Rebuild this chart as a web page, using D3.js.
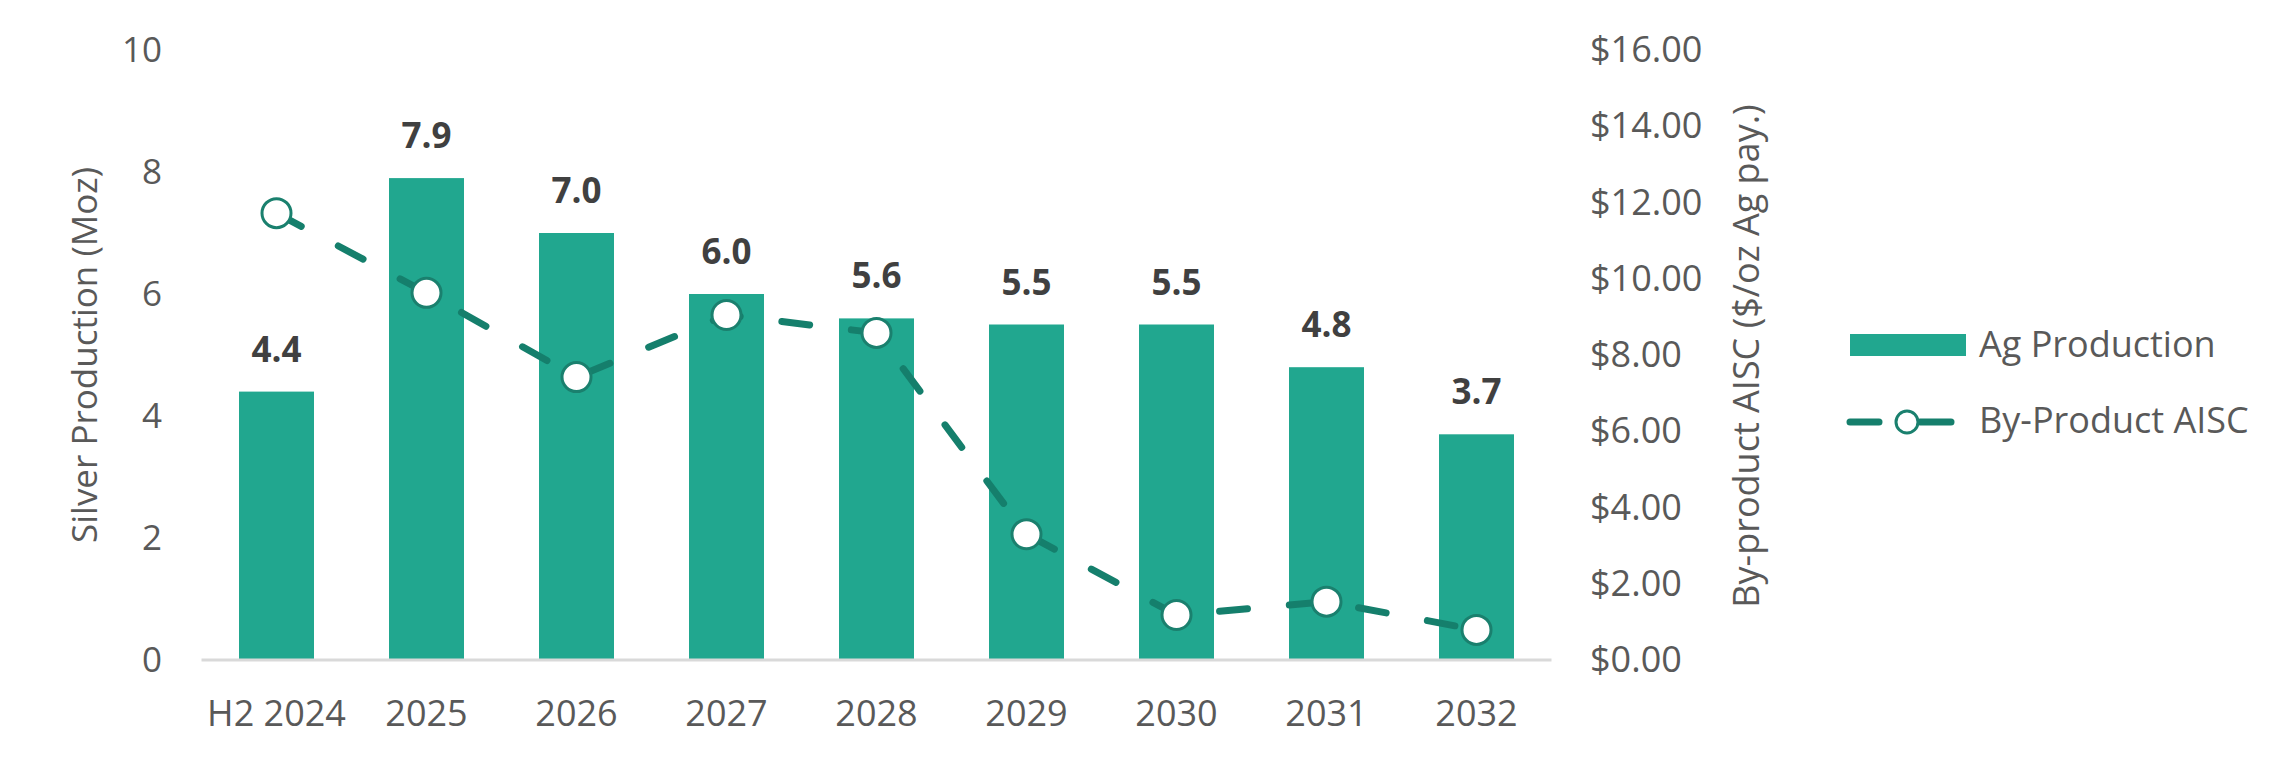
<!DOCTYPE html>
<html>
<head>
<meta charset="utf-8">
<script src="https://cdn.jsdelivr.net/npm/d3@7"></script>
<style>
  body { margin: 0; background: #fff; }
  text { font-family: "Open Sans", sans-serif; }
</style>
</head>
<body>
<div id="chart"></div>
<script>
// data
var years = ["H2 2024", "2025", "2026", "2027", "2028", "2029", "2030", "2031", "2032"];
var agProduction = [4.4, 7.9, 7.0, 6.0, 5.6, 5.5, 5.5, 4.8, 3.7];
var aisc = [11.72, 9.63, 7.42, 9.05, 8.58, 3.30, 1.18, 1.53, 0.79];
var leftTicks = [0, 2, 4, 6, 8, 10];
var rightTicks = [0, 2, 4, 6, 8, 10, 12, 14, 16];

var W = 2295, H = 767;
var plotLeft = 201.5, plotRight = 1551.5, plotTop = 50, plotBottom = 660;

var barColor = "#21a78f", lineColor = "#157f6c", textGrey = "#595959";

var svg = d3.select("#chart").append("svg")
    .attr("width", W)
    .attr("height", H);

var x = d3.scaleBand().domain(years).range([plotLeft, plotRight])
    .paddingInner(0.5).paddingOuter(0.25);
var y = d3.scaleLinear().domain([0, 10]).range([plotBottom, plotTop]);
var y2 = d3.scaleLinear().domain([0, 16]).range([plotBottom, plotTop]);

function cx(i) { return x(years[i]) + x.bandwidth() / 2; }

// LEFT AXIS
var yAxis = svg.append("g")
    .attr("transform", "translate(162,0)")
    .call(d3.axisLeft(y).tickValues(leftTicks).tickSize(0).tickPadding(0));
yAxis.select(".domain").remove();
yAxis.selectAll("text")
    .style("font-size", "35px")
    .style("fill", textGrey);

// RIGHT AXIS
var yAxis2 = svg.append("g")
    .attr("transform", "translate(1590,0)")
    .call(d3.axisRight(y2).tickValues(rightTicks).tickSize(0).tickPadding(0)
        .tickFormat(function (d) { return "$" + d3.format(".2f")(d); }));
yAxis2.select(".domain").remove();
yAxis2.selectAll("text")
    .style("font-size", "36px")
    .style("fill", textGrey);

// BARS
svg.selectAll("rect.bar")
    .data(agProduction)
    .enter()
    .append("rect")
    .attr("class", "bar")
    .attr("x", function (d, i) { return x(years[i]); })
    .attr("y", function (d) { return y(d); })
    .attr("width", x.bandwidth())
    .attr("height", function (d) { return y(0) - y(d); })
    .style("fill", barColor);

// X AXIS
var xAxis = svg.append("g")
    .attr("transform", "translate(0," + plotBottom + ")")
    .call(d3.axisBottom(x).tickSize(0).tickPadding(40));
xAxis.select(".domain")
    .attr("d", "M" + plotLeft + ",0H" + plotRight)
    .style("stroke", "#d9d9d9")
    .style("stroke-width", 3);
xAxis.selectAll("text")
    .style("font-size", "36px")
    .style("fill", textGrey);

// BAR LABELS
svg.selectAll("text.barlabel")
    .data(agProduction)
    .enter()
    .append("text")
    .attr("class", "barlabel")
    .attr("x", function (d, i) { return cx(i); })
    .attr("y", function (d) { return y(d) - 30; })
    .style("text-anchor", "middle")
    .style("font-size", "35px")
    .style("font-weight", "bold")
    .style("fill", "#404040")
    .text(function (d) { return d3.format(".1f")(d); });

// AISC LINE
var line = d3.line()
    .x(function (d, i) { return cx(i); })
    .y(function (d) { return y2(d); });

svg.append("path")
    .datum(aisc)
    .attr("d", line)
    .style("fill", "none")
    .style("stroke", lineColor)
    .style("stroke-width", 7)
    .style("stroke-linecap", "round")
    .style("stroke-dasharray", "28,42");

svg.selectAll("circle.pt")
    .data(aisc)
    .enter()
    .append("circle")
    .attr("class", "pt")
    .attr("cx", function (d, i) { return cx(i); })
    .attr("cy", function (d) { return y2(d); })
    .attr("r", 14.5)
    .style("fill", "#fff")
    .style("stroke", "#1a806e")
    .style("stroke-width", 3);

// AXIS TITLES
svg.append("text")
    .attr("transform", "translate(85," + ((plotTop + plotBottom) / 2) + ") rotate(-90)")
    .attr("dy", "0.35em")
    .style("text-anchor", "middle")
    .style("font-size", "35px")
    .style("fill", textGrey)
    .text("Silver Production (Moz)");

svg.append("text")
    .attr("transform", "translate(1746,356) rotate(-90)")
    .attr("dy", "0.35em")
    .style("text-anchor", "middle")
    .style("font-size", "36px")
    .style("fill", textGrey)
    .text("By-product AISC ($/oz Ag pay.)");

// LEGEND
var lg = svg.append("g");
lg.append("rect")
    .attr("x", 1850).attr("y", 334)
    .attr("width", 116).attr("height", 22)
    .style("fill", barColor);
lg.append("text")
    .attr("x", 1979).attr("y", 357)
    .style("font-size", "36px").style("fill", textGrey)
    .text("Ag Production");

lg.append("line")
    .attr("x1", 1850).attr("x2", 1879).attr("y1", 422).attr("y2", 422)
    .style("stroke", lineColor).style("stroke-width", 7).style("stroke-linecap", "round");
lg.append("line")
    .attr("x1", 1920).attr("x2", 1951).attr("y1", 422).attr("y2", 422)
    .style("stroke", lineColor).style("stroke-width", 7).style("stroke-linecap", "round");
lg.append("circle")
    .attr("cx", 1907).attr("cy", 422).attr("r", 11)
    .style("fill", "#fff").style("stroke", "#1a806e").style("stroke-width", 3);
lg.append("text")
    .attr("x", 1979).attr("y", 433)
    .style("font-size", "36px").style("fill", textGrey)
    .text("By-Product AISC");
</script>
</body>
</html>
